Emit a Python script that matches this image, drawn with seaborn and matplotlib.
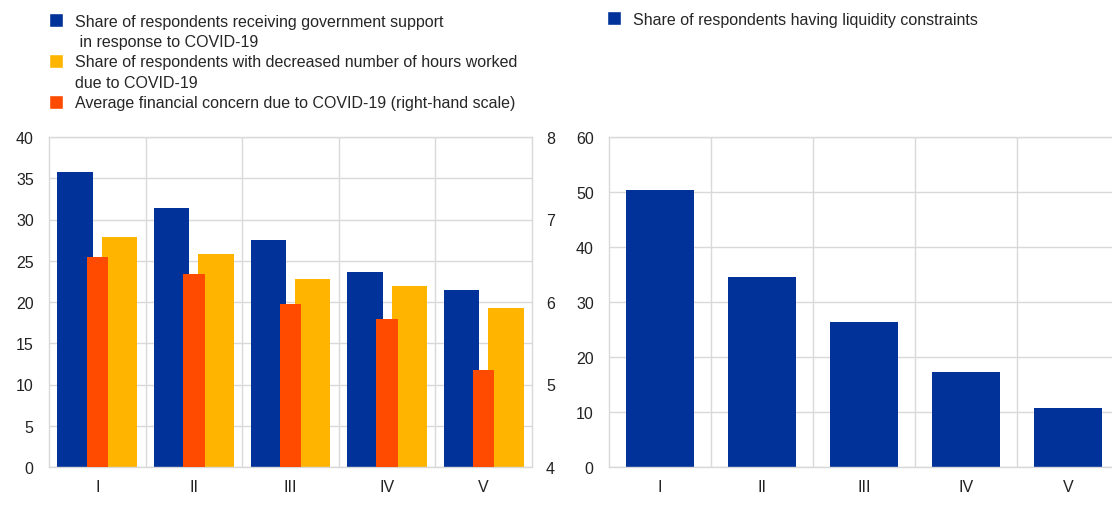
import matplotlib
matplotlib.use("Agg")
import matplotlib.pyplot as plt
import seaborn as sns
import pandas as pd
from matplotlib.patches import Patch
from matplotlib.ticker import FixedLocator

# ---- data ----
groups = ["I", "II", "III", "IV", "V"]
gov_support = [35.8, 31.4, 27.5, 23.6, 21.5]
hours_decreased = [27.9, 25.8, 22.8, 21.9, 19.3]
financial_concern = [6.55, 6.34, 5.98, 5.80, 5.17]
liquidity_constraints = [50.4, 34.6, 26.4, 17.3, 10.7]

lab_gov = ["Share of respondents receiving government support", " in response to COVID-19"]
lab_hours = ["Share of respondents with decreased number of hours worked", "due to COVID-19"]
lab_concern = "Average financial concern due to COVID-19 (right-hand scale)"
lab_liq = "Share of respondents having liquidity constraints"

BLUE = "#003299"
YELLOW = "#FFB400"
RED = "#FF4B00"
GRID = "#d9d9d9"
FS = 11.5

sns.set_theme(style="white")
plt.rcParams["font.family"] = ["Liberation Sans", "DejaVu Sans"]
plt.rcParams["font.size"] = FS

fig = plt.figure(figsize=(11.12, 5.06), dpi=100)
W, H = 1112, 506

def fx(px):
    return px / W

def fy(py):
    return 1 - py / H

axL = fig.add_axes([fx(49), fy(468), fx(532) - fx(49), fy(138) - fy(468)])
axR = fig.add_axes([fx(609), fy(468), fx(1119) - fx(609), fy(138) - fy(468)])

df_left = pd.DataFrame({
    "group": groups * 2,
    "series": ["gov"] * 5 + ["hours"] * 5,
    "value": gov_support + hours_decreased,
})
sns.barplot(data=df_left, x="group", y="value", hue="series", order=groups,
            hue_order=["gov", "hours"], palette=[BLUE, YELLOW], saturation=1,
            width=0.92, gap=0.2, linewidth=0, ax=axL, legend=False, zorder=2)

axL2 = axL.twinx()
df_conc = pd.DataFrame({"group": groups, "value": financial_concern})
sns.barplot(data=df_conc, x="group", y="value", order=groups, color=RED,
            saturation=1, width=0.22, linewidth=0, ax=axL2, zorder=3)

df_right = pd.DataFrame({"group": groups, "value": liquidity_constraints})
sns.barplot(data=df_right, x="group", y="value", order=groups, color=BLUE,
            saturation=1, width=0.67, linewidth=0, ax=axR, zorder=2)

def style(ax, ymax, step):
    ax.set_xlim(-0.5, 4.5)
    ax.set_ylim(0, ymax)
    ax.set_yticks(range(0, ymax + 1, step))
    ax.set_xlabel("")
    ax.set_ylabel("")
    ax.xaxis.set_minor_locator(FixedLocator([0.5, 1.5, 2.5, 3.5]))
    ax.grid(True, which="major", axis="y", color=GRID, lw=1, zorder=0)
    ax.grid(True, which="minor", axis="x", color=GRID, lw=1, zorder=0)
    ax.grid(False, which="major", axis="x")
    ax.set_axisbelow(True)
    ax.tick_params(axis="both", which="both", length=0, labelsize=FS,
                   colors="#222222")
    ax.tick_params(axis="y", pad=11)
    ax.tick_params(axis="x", pad=9)
    for s in ax.spines.values():
        s.set_color(GRID)
        s.set_linewidth(1)

style(axL, 40, 5)
style(axR, 60, 10)
axR.spines["right"].set_visible(False)

axL2.set_ylim(4, 8)
axL2.set_yticks([4, 5, 6, 7, 8])
axL2.set_ylabel("")
axL2.tick_params(axis="y", length=0, pad=10, labelsize=FS, colors="#222222")
for s in axL2.spines.values():
    s.set_visible(False)

blank = Patch(facecolor="none", edgecolor="none")
handles_left = [Patch(facecolor=BLUE), blank,
                Patch(facecolor=YELLOW), blank,
                Patch(facecolor=RED)]
labels_left = [lab_gov[0], lab_gov[1], lab_hours[0], lab_hours[1], lab_concern]
leg_kw = dict(loc="upper left", frameon=False, fontsize=FS,
              handlelength=0.85, handleheight=1.0, handletextpad=0.8,
              borderaxespad=0, borderpad=0)
fig.legend(handles_left, labels_left, bbox_to_anchor=(fx(49), fy(14)),
           labelspacing=0.3, **leg_kw)

fig.legend([Patch(facecolor=BLUE)], [lab_liq],
           bbox_to_anchor=(fx(607), fy(12)), **leg_kw)

fig.savefig("out.png", dpi=100, facecolor="white")
